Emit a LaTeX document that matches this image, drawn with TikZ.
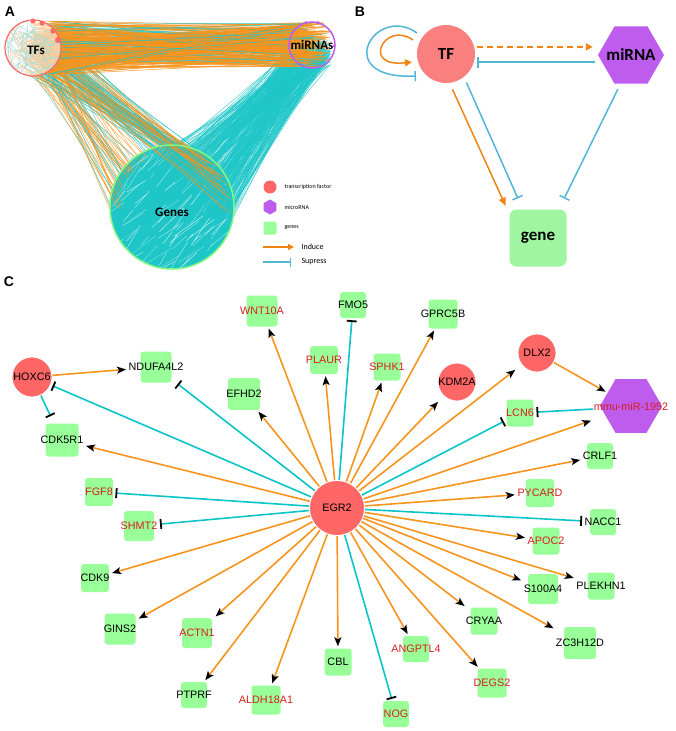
\documentclass[tikz,border=0pt]{standalone}
\usepackage{fontspec}
\setmainfont{Liberation Sans}
\newfontfamily\carl{Carlito}
\usetikzlibrary{arrows.meta,shapes.geometric,calc}
\definecolor{ora}{RGB}{247,148,30}
\definecolor{oraB}{RGB}{240,132,20}
\definecolor{teaA}{RGB}{30,198,200}
\definecolor{teaC}{RGB}{10,196,200}
\definecolor{teaB}{RGB}{82,182,214}
\definecolor{redN}{RGB}{255,102,102}
\definecolor{tfB}{RGB}{250,128,128}
\definecolor{purp}{RGB}{190,92,238}
\definecolor{gfill}{RGB}{153,255,153}
\definecolor{gB}{RGB}{160,245,160}
\definecolor{redt}{RGB}{215,30,30}
\definecolor{paleO}{RGB}{250,205,160}
\definecolor{paleT}{RGB}{150,222,222}
\pgfdeclarelayer{bg}
\pgfsetlayers{bg,main}
\tikzset{
 ind/.style={ora, line width=1.6pt, -{Stealth[color=black,fill=black,length=9pt,width=7pt,inset=2pt]}, shorten >=2pt},
 sup/.style={teaC, line width=1.6pt, -{Bar[color=black,width=10pt,line width=1.8pt]}, shorten >=2pt},
 gbox/.style={fill=gfill, rounded corners=3pt, inner sep=0pt},
 glbl/.style={inner sep=0.5pt, font=\fontsize{10.8}{12}\selectfont},
 rnode/.style={circle, fill=redN, draw=white, line width=0.8pt, inner sep=0pt, font=\fontsize{10.8}{12}\selectfont},
 bfont/.style={font=\carl\bfseries\fontsize{17}{20}\selectfont},
 afont/.style={font=\carl\bfseries\fontsize{13}{15}\selectfont},
 plet/.style={font=\bfseries\fontsize{14}{16}\selectfont},
}
\newcommand\gn[6]{\node[gbox,minimum size=#4pt] (#1-bg) at (#2,#3) {};\node[glbl,minimum size=#4pt,text=#6] (#1) at (#2,#3) {#5};}
\begin{document}
\begin{tikzpicture}[x=1pt,y=-1pt]
\useasboundingbox (0,0) rectangle (675,731);
% ================= Panel A =================
\pgfmathsetseed{12345}
\begin{scope}
 \clip (172,207) circle[radius=62pt];
 \fill[teaA] (108,143) rectangle (236,271);
 \foreach \i in {1,...,120}{
   \pgfmathsetmacro\xc{105+130*rnd}
   \pgfmathsetmacro\yc{150+125*rnd}
   \pgfmathsetmacro\an{-30-30*rnd}
   \pgfmathsetmacro\le{8+30*rnd}
   \pgfmathsetmacro\op{0.25+0.5*rnd}
   \draw[white,opacity=\op,line width=0.5pt] (\xc,\yc) -- ++(\an:\le);
 }
\end{scope}
\foreach \i in {1,...,320}{
 \pgfmathsetmacro\ang{-15+110*rnd}
 \pgfmathsetmacro\rad{62*(0.5+0.5*rnd)}
 \pgfmathsetmacro\xb{172+\rad*cos(\ang)}
 \pgfmathsetmacro\yb{207-\rad*sin(\ang)}
 \pgfmathsetmacro\xa{292+40*rnd}
 \pgfmathsetmacro\ya{40+26*rnd}
 \draw[teaA,line width=0.45pt,opacity=0.85] (\xa,\ya) -- (\xb,\yb);
}
\foreach \i in {1,...,160}{
 \pgfmathsetmacro\ang{-8+195*rnd}
 \pgfmathsetmacro\rad{62*(0.8+0.2*rnd)}
 \pgfmathsetmacro\xb{172+\rad*cos(\ang)}
 \pgfmathsetmacro\yb{207-\rad*sin(\ang)}
 \pgfmathsetmacro\xa{20+40*rnd}
 \pgfmathsetmacro\ya{30+45*rnd}
 \pgfmathsetmacro\cc{rnd}
 \ifdim\cc pt<0.6pt \def\col{ora}\else\def\col{teaA}\fi
 \draw[\col,line width=0.45pt,opacity=0.8] (\xa,\ya) -- (\xb,\yb);
}
\foreach \i in {1,...,300}{
 \pgfmathsetmacro\xa{30+28*rnd}
 \pgfmathsetmacro\ya{21+54*rnd}
 \pgfmathsetmacro\xb{292+38*rnd}
 \pgfmathsetmacro\yb{22+45*rnd}
 \pgfmathsetmacro\cc{rnd}
 \ifdim\cc pt<0.85pt \def\col{ora}\else\def\col{teaA}\fi
 \draw[\col,line width=0.5pt] (\xa,\ya) -- (\xb,\yb);
}
\begin{scope}
 \clip (33,48) circle[radius=28pt];
 \fill[white,opacity=0.55] (33,48) circle[radius=28pt];
 \foreach \i in {1,...,90}{
   \pgfmathsetmacro\xa{5+56*rnd}
   \pgfmathsetmacro\ya{20+56*rnd}
   \pgfmathsetmacro\xb{5+56*rnd}
   \pgfmathsetmacro\yb{20+56*rnd}
   \pgfmathsetmacro\cc{rnd}
   \ifdim\cc pt<0.5pt \def\col{paleO}\else\def\col{paleT}\fi
   \draw[\col,line width=0.4pt] (\xa,\ya) -- (\xb,\yb);
 }
\end{scope}
\draw[redN,line width=1.2pt] (33,48) circle[radius=28pt];
\draw[purp,line width=1.5pt] (312,45) circle[radius=23pt];
\draw[gB!80!green,line width=1.5pt] (172,207) circle[radius=62pt];
\fill[redN] (33,21) circle[radius=2.5pt] (42,23) circle[radius=2.5pt] (53,31) circle[radius=2.7pt] (58,40) circle[radius=3pt];
\fill[purp] (306,22.5) circle[radius=1.5pt] (318,22.5) circle[radius=1.5pt] (334,46) circle[radius=1.5pt];
\node[afont] (tfsl) at (36,50) {TFs};
\node[afont] (mirsl) at (312,45) {miRNAs};
\node[afont] (gensl) at (172,212) {Genes};
% legend
\node[circle,fill=redN,minimum size=13pt,inner sep=0pt] (lg1) at (270,187) {};
\node[anchor=west,font=\carl\fontsize{6}{7}\selectfont] (lg1t) at (281,187) {transcription factor};
\node[regular polygon,regular polygon sides=6,shape border rotate=30,fill=purp,minimum size=15pt,inner sep=0pt] (lg2) at (270,207) {};
\node[anchor=west,font=\carl\fontsize{6}{7}\selectfont] (lg2t) at (281,207) {microRNA};
\node[fill=gfill,rounded corners=2pt,minimum size=13pt,inner sep=0pt] (lg3) at (270,228) {};
\node[anchor=west,font=\carl\fontsize{6}{7}\selectfont] (lg3t) at (281,228) {genes};
\coordinate (la1) at (263,247);
\coordinate (la2) at (294,247);
\draw[oraB,line width=1.3pt,-{Triangle[length=6pt,width=6pt]}] (la1) -- (la2);
\node[anchor=west,font=\carl\fontsize{8}{9}\selectfont] (lat) at (298,247) {Induce};
\coordinate (ls1) at (263,262);
\coordinate (ls2) at (291,262);
\draw[teaB,line width=1.1pt,-{Bar[width=9pt,line width=1.1pt]}] (ls1) -- (ls2);
\node[anchor=west,font=\carl\fontsize{8}{9}\selectfont] (lst) at (298,262) {Supress};
\node[plet] (pA) at (10,12) {A};
% ================= Panel B =================
\node[plet] (pB) at (360,12) {B};
\node[circle,fill=tfB,minimum size=58pt,inner sep=0pt,bfont] (tf) at (446,54) {TF};
\node[regular polygon,regular polygon sides=6,minimum size=66pt,fill=purp,inner sep=0pt] (mirna) at (631,55) {};
\node[bfont] (mirnat) at (631,55) {miRNA};
\node[fill=gB,rounded corners=7pt,minimum size=57pt,inner sep=0pt,bfont] (gene) at (538,238) {gene};
\draw[oraB,line width=1.5pt,dash pattern=on 6pt off 4pt,-{Triangle[length=7pt,width=7pt]},shorten <=3pt,shorten >=5pt] (tf.14) -- (mirna.west |- tf.14);
\draw[teaB,line width=1.5pt,-{Bar[width=11pt,line width=1.5pt]},shorten <=3pt,shorten >=3pt] (mirna.west |- tf.-16) -- (tf.-16);
\draw[oraB,line width=1.5pt,-{Triangle[length=8pt,width=7pt]},shorten <=7pt,shorten >=9pt] (tf.-83) -- (gene.140);
\draw[teaB,line width=1.5pt,-{Bar[width=11pt,line width=1.5pt]},shorten <=6pt,shorten >=12pt] (tf.-52) -- (gene.118);
\draw[teaB,line width=1.5pt,-{Bar[width=11pt,line width=1.5pt]},shorten <=6pt,shorten >=12pt] (mirna.-110) -- (gene.54);
\coordinate (lo1) at (413,40);
\coordinate (lo2) at (412,62);
\draw[oraB,line width=1.5pt,-{Triangle[length=7pt,width=7pt]}] (lo1) .. controls (385,20) and (360,68) .. (lo2);
\coordinate (lt1) at (417,33);
\coordinate (lt2) at (416,76);
\draw[teaB,line width=1.5pt,-{Bar[width=10pt,line width=1.5pt]}] (lt1) .. controls (375,3) and (330,80) .. (lt2);
% ================= Panel C =================
\node[plet] (pC) at (9,282) {C};
\node[rnode,minimum size=55pt] (egr2) at (337,508) {EGR2};
\node[rnode,minimum size=40pt] (hoxc6) at (32,377) {HOXC6};
\node[rnode,minimum size=36pt] (kdm2a) at (457,382) {KDM2A};
\node[rnode,minimum size=38pt] (dlx2) at (537,353) {DLX2};
\node[regular polygon,regular polygon sides=6,minimum size=62pt,fill=purp,inner sep=0pt] (mir-bg) at (631,406) {};
\node[glbl,text=redt,minimum height=55pt] (mir) at (631,407) {mmu-miR-1952};
\gn{ndufa}{156}{367}{31}{NDUFA4L2}{black}
\gn{cdk5r1}{62}{440}{33}{CDK5R1}{black}
\gn{wnt10a}{262}{311}{31}{WNT10A}{redt}
\gn{efhd2}{244}{394}{32}{EFHD2}{black}
\gn{plaur}{324}{360}{28}{PLAUR}{redt}
\gn{fmo5}{353}{305}{26}{FMO5}{black}
\gn{gprc5b}{443}{314}{29}{GPRC5B}{black}
\gn{sphk1}{387}{367}{27}{SPHK1}{redt}
\gn{lcn6}{520}{413}{27}{LCN6}{redt}
\gn{crlf1}{600}{456}{26}{CRLF1}{black}
\gn{pycard}{540}{493}{28}{PYCARD}{redt}
\gn{nacc1}{603}{522}{26}{NACC1}{black}
\gn{apoc2}{546}{541}{27}{APOC2}{redt}
\gn{s100a4}{543}{589}{30}{S100A4}{black}
\gn{plekhn1}{601}{586}{27}{PLEKHN1}{black}
\gn{cryaa}{484}{621}{27}{CRYAA}{black}
\gn{zc3h12d}{580}{643}{32}{ZC3H12D}{black}
\gn{angptl4}{416}{649}{26}{ANGPTL4}{redt}
\gn{degs2}{492}{683}{29}{DEGS2}{redt}
\gn{nog}{396}{714}{26}{NOG}{redt}
\gn{cbl}{338}{662}{27}{CBL}{black}
\gn{fgf8}{99}{492}{28}{FGF8}{redt}
\gn{shmt2}{139}{526}{30}{SHMT2}{redt}
\gn{cdk9}{95}{578}{28}{CDK9}{black}
\gn{gins2}{120}{629}{31}{GINS2}{black}
\gn{actn1}{197}{633}{30}{ACTN1}{redt}
\gn{ptprf}{194}{695}{26}{PTPRF}{black}
\gn{aldh}{266}{700}{29}{ALDH18A1}{redt}
\begin{pgfonlayer}{bg}
\foreach \tg in {wnt10a,efhd2,plaur,sphk1,gprc5b,pycard,crlf1,apoc2,plekhn1,s100a4,zc3h12d,cryaa,degs2,angptl4,cbl,aldh,ptprf,actn1,gins2,cdk9,cdk5r1,mir}
  \draw[ind] (egr2) -- (\tg);
\draw[ind,shorten >=8pt] (egr2) -- (kdm2a);
\draw[ind,shorten >=8pt] (egr2) -- (dlx2);
\foreach \tg in {fmo5,lcn6,nacc1,nog,shmt2,fgf8,ndufa,hoxc6}
  \draw[sup] (egr2) -- (\tg);
\draw[ind] (hoxc6) -- (ndufa);
\draw[sup,shorten >=8pt] (hoxc6) -- (cdk5r1);
\draw[ind] (dlx2) -- (mir-bg);
\draw[sup] (mir) -- (lcn6);
\end{pgfonlayer}
\end{tikzpicture}
\end{document}
